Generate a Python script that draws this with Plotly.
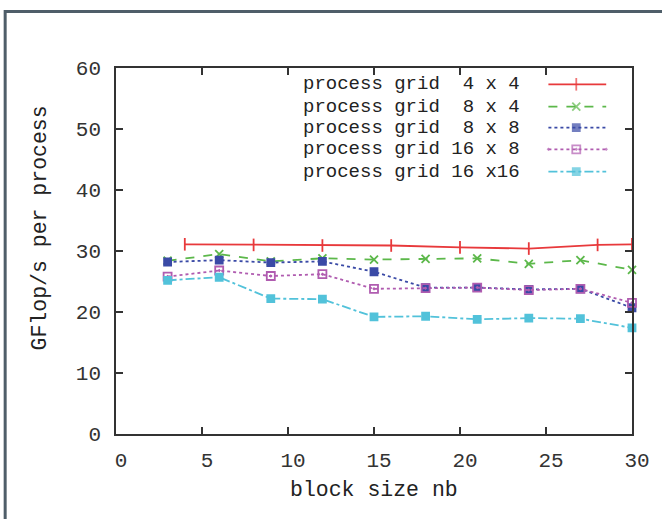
import plotly.graph_objects as go

# block size nb on the x axis
nb_4x4 = [4, 8, 12, 16, 20, 24, 28, 30]
nb = [3, 6, 9, 12, 15, 18, 21, 24, 27, 30]

# GFlop/s per process for each process grid
gf_4x4 = [31.1, 31.0, 30.9, 30.9, 30.6, 30.4, 31.0, 31.1]
gf_8x4 = [28.4, 29.5, 28.3, 28.8, 28.6, 28.7, 28.8, 27.9, 28.5, 26.9]
gf_8x8 = [28.2, 28.5, 28.1, 28.3, 26.6, 24.0, 24.0, 23.7, 23.8, 20.7]
gf_16x8 = [25.8, 26.8, 25.9, 26.2, 23.8, 23.9, 24.0, 23.6, 23.8, 21.5]
gf_16x16 = [25.2, 25.7, 22.2, 22.1, 19.2, 19.3, 18.8, 19.0, 18.9, 17.4]

labels = [
    "process grid  4 x 4",
    "process grid  8 x 4",
    "process grid  8 x 8",
    "process grid 16 x 8",
    "process grid 16 x16",
]

x_ticks = [0, 5, 10, 15, 20, 25, 30]
y_ticks = [0, 10, 20, 30, 40, 50, 60]

FONT = "Liberation Mono, Courier New, monospace"
INK = "#333333"

styles = [
    dict(color="#e8393b", dash="solid", symbol="line-ns-open", size=9),
    dict(color="#5cb84a", dash="dash", symbol="x-thin-open", size=8),
    dict(color="#3a4aa6", dash="dot", symbol="square", size=7),
    dict(color="#b05cb0", dash="dot", symbol="square-open-dot", size=8),
    dict(color="#52c2da", dash="dashdot", symbol="square", size=7),
]

series = [
    (nb_4x4, gf_4x4),
    (nb, gf_8x4),
    (nb, gf_8x8),
    (nb, gf_16x8),
    (nb, gf_16x16),
]

fig = go.Figure()

for (xs, ys), st in zip(series, styles):
    fig.add_trace(go.Scatter(
        x=xs, y=ys, mode="lines+markers",
        line=dict(color=st["color"], dash=st["dash"], width=1.8),
        marker=dict(symbol=st["symbol"], size=st["size"], color=st["color"],
                    line=dict(color=st["color"], width=1.8)),
        cliponaxis=False, showlegend=False,
    ))

# Key: text on the left, line sample with a centred marker on the right,
# drawn on an overlay axis pair that spans the plot area as [0, 1].
row_y = [0.9555, 0.8943, 0.8369, 0.7779, 0.7167]
key_x = [0.838, 0.892, 0.950]
for lbl, yk, st in zip(labels, row_y, styles):
    fig.add_trace(go.Scatter(
        x=key_x, y=[yk] * 3, xaxis="x2", yaxis="y2", mode="lines+markers",
        line=dict(color=st["color"], dash=st["dash"], width=1.8),
        marker=dict(symbol=st["symbol"], size=[0, st["size"], 0], color=st["color"],
                    line=dict(color=st["color"], width=1.8)),
        cliponaxis=False, showlegend=False, hoverinfo="skip",
    ))
    fig.add_annotation(
        text=lbl, xref="paper", yref="paper", x=0.572, y=yk,
        xanchor="center", yanchor="middle", showarrow=False, borderpad=0,
        font=dict(family=FONT, size=19, color="#222222"),
    )

axis_common = dict(
    showline=True, linecolor=INK, linewidth=1.5, mirror="ticks",
    ticks="inside", ticklen=7, tickwidth=1.5, tickcolor=INK,
    showgrid=False, zeroline=False,
    tickfont=dict(family=FONT, size=21, color=INK),
)

fig.update_layout(
    width=662, height=519,
    margin=dict(l=116, r=27, t=68, b=85),
    paper_bgcolor="white", plot_bgcolor="white",
    xaxis=dict(range=[0, 30], tickvals=x_ticks, ticklabelstandoff=6,
               ticklabelshift=5, **axis_common),
    yaxis=dict(range=[0, 60], tickvals=y_ticks, ticklabelstandoff=9, **axis_common),
    xaxis2=dict(range=[0, 1], overlaying="x", visible=False),
    yaxis2=dict(range=[0, 1], overlaying="y", visible=False),
    annotations=list(fig.layout.annotations) + [
        dict(text="block size nb", xref="paper", yref="paper", x=0.5, y=-0.153,
             xanchor="center", yanchor="middle", showarrow=False,
             font=dict(family=FONT, size=21.5, color="#222222")),
        dict(text="GFlop/s per process", xref="paper", yref="paper", x=-0.1464, y=0.5628,
             xanchor="center", yanchor="middle", showarrow=False, textangle=-90,
             font=dict(family=FONT, size=21.5, color="#222222")),
    ],
    shapes=[
        # outer frame of the figure panel
        dict(type="rect", xref="paper", yref="paper",
             x0=-0.2148, x1=1.125, y0=-0.344, y1=1.1544,
             line=dict(color="#4f5e69", width=3), fillcolor="rgba(0,0,0,0)", layer="below"),
    ],
)

fig.write_html("out.html")
